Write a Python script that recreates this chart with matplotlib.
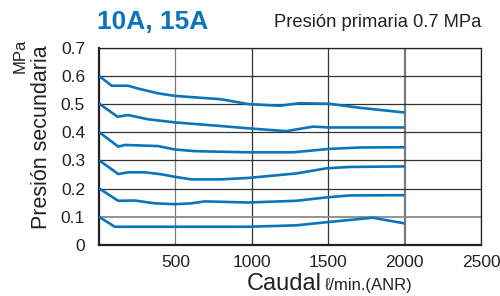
import numpy as np
import matplotlib
matplotlib.use('Agg')
import matplotlib.pyplot as plt

plt.rcParams['font.family'] = ['Liberation Sans', 'DejaVu Sans']

# curvas de presión secundaria (caudal en l/min, presión en MPa)
flow_06 = [0, 83, 191, 255, 387, 496, 800, 975, 1182, 1313, 1508, 1704, 2000]
pres_06 = [0.600, 0.565, 0.565, 0.555, 0.538, 0.529, 0.517, 0.500, 0.494, 0.503, 0.501, 0.487, 0.470]

flow_05 = [0, 122, 191, 322, 496, 800, 975, 1225, 1400, 1508, 2000]
pres_05 = [0.502, 0.455, 0.461, 0.446, 0.435, 0.422, 0.414, 0.404, 0.420, 0.417, 0.417]

flow_04 = [0, 126, 170, 387, 496, 627, 975, 1270, 1508, 1704, 2000]
pres_04 = [0.401, 0.349, 0.355, 0.351, 0.339, 0.333, 0.329, 0.329, 0.341, 0.346, 0.347]

flow_03 = [0, 126, 191, 300, 409, 496, 605, 800, 975, 1291, 1487, 1639, 2000]
pres_03 = [0.301, 0.252, 0.258, 0.258, 0.251, 0.242, 0.233, 0.233, 0.238, 0.254, 0.272, 0.277, 0.279]

flow_02 = [0, 126, 235, 366, 496, 605, 692, 975, 1291, 1487, 1639, 2000]
pres_02 = [0.201, 0.157, 0.158, 0.148, 0.145, 0.148, 0.155, 0.151, 0.157, 0.169, 0.176, 0.177]

flow_01 = [0, 104, 975, 1291, 1487, 1791, 2000]
pres_01 = [0.100, 0.065, 0.065, 0.070, 0.081, 0.097, 0.077]

curves = [(flow_06, pres_06), (flow_05, pres_05), (flow_04, pres_04),
          (flow_03, pres_03), (flow_02, pres_02), (flow_01, pres_01)]

x_ticks = [500, 1000, 1500, 2000, 2500]
y_ticks = [0, 0.1, 0.2, 0.3, 0.4, 0.5, 0.6, 0.7]
y_labels = ['0', '0.1', '0.2', '0.3', '0.4', '0.5', '0.6', '0.7']

blue = '#0a74bc'

fig = plt.figure(figsize=(5, 2.96), dpi=100)
ax = fig.add_axes([0.198, 0.172, 0.764, 0.667])

for fx, py in curves:
    ax.plot(fx, py, color=blue, lw=1.9, solid_capstyle='butt', zorder=3)

ax.set_xlim(0, 2500)
ax.set_ylim(0, 0.7)
ax.set_xticks(x_ticks)
ax.set_yticks(y_ticks)
ax.set_yticklabels(y_labels)
ax.tick_params(length=0, labelsize=12.5, colors='#222222')
ax.tick_params(axis='y', pad=10)
ax.tick_params(axis='x', pad=7)

ax.grid(True, color='#333333', lw=0.9)
for g, v in zip(ax.get_xgridlines(), x_ticks):
    if v == 500:
        g.set_color('#7a7a7a')
    if v == 2000:
        g.set_color('#7a7a7a')
        g.set_linewidth(1.6)
for g, v in zip(ax.get_ygridlines(), y_ticks):
    if v == 0.1:
        g.set_color('#8a8a8a')
        g.set_linewidth(1.3)

for s in ax.spines.values():
    s.set_color('#222222')
    s.set_linewidth(0.9)
ax.spines['left'].set_linewidth(1.6)
ax.spines['bottom'].set_linewidth(1.6)

# textos
fig.text(0.194, 0.925, '10A, 15A', color=blue, fontsize=19, fontweight='bold',
         ha='left', va='center')
fig.text(0.962, 0.925, 'Presión primaria 0.7 MPa', color='#222222', fontsize=13.2,
         ha='right', va='center')
fig.text(0.084, 0.535, 'Presión secundaria', rotation=90, fontsize=15.5,
         color='#222222', ha='center', va='center')
fig.text(0.040, 0.81, 'MPa', rotation=90, fontsize=12,
         color='#222222', ha='center', va='center')
fig.text(0.644, 0.02, 'Caudal', fontsize=17, color='#222222', ha='right', va='baseline')
fig.text(0.650, 0.02, 'ℓ/min.(ANR)', fontsize=12, color='#222222', ha='left', va='baseline')

fig.savefig('out.png', dpi=100)
